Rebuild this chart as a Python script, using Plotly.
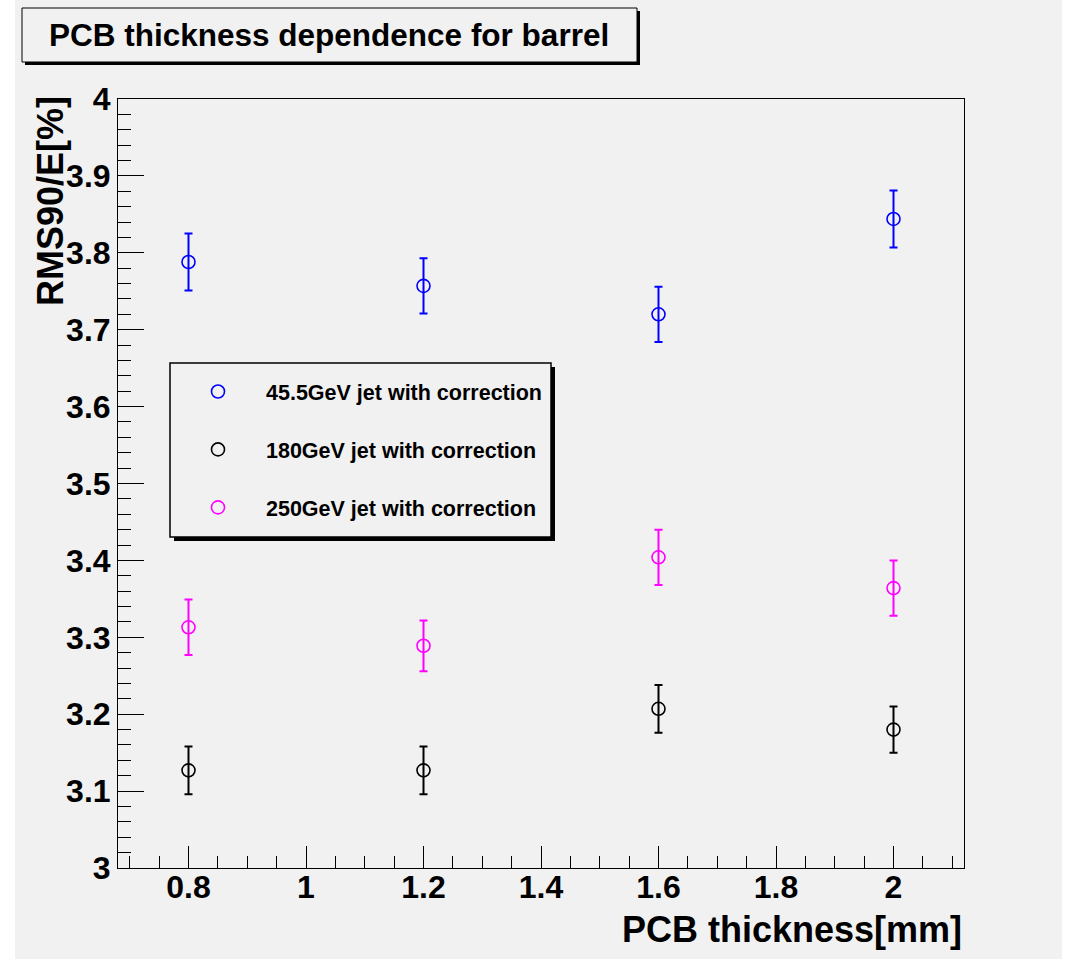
import plotly.graph_objects as go

# ---------------- data ----------------
thickness = [0.8, 1.2, 1.6, 2.0]
rms_45 = [3.788, 3.757, 3.720, 3.844]
err_45 = [0.037, 0.036, 0.036, 0.037]
rms_180 = [3.127, 3.127, 3.207, 3.180]
err_180 = [0.031, 0.031, 0.031, 0.030]
rms_250 = [3.313, 3.289, 3.404, 3.364]
err_250 = [0.036, 0.033, 0.036, 0.036]
names = ["45.5GeV jet with correction", "180GeV jet with correction", "250GeV jet with correction"]
colors = ["#0000ff", "#000000", "#ff00ff"]

# ---------------- layout geometry (pixels) ----------------
W, H = 1067, 959
L, R, T, B = 118, 964, 99, 868
BG = "#f1f1f1"
FONT = "Liberation Sans"

def px(xp):
    return (xp - L) / (R - L)

def py(yp):
    return (B - yp) / (B - T)

fig = go.Figure()
series = [(rms_45, err_45), (rms_180, err_180), (rms_250, err_250)]
for i, ((yv, ev), nm, c) in enumerate(zip(series, names, colors)):
    fig.add_trace(go.Scatter(
        x=thickness, y=yv, mode="markers", name=nm, legendgroup=f"g{i}",
        marker=dict(symbol="circle-open", size=13, color=c, line=dict(width=1.6, color=c)),
        error_y=dict(type="data", array=ev, visible=True, color=c, thickness=2, width=4),
    ))

shapes = [
    # white strips at canvas edges
    dict(type="rect", xref="paper", yref="paper", x0=px(0), x1=px(15), y0=py(H), y1=py(0),
         fillcolor="white", line=dict(width=0), layer="below"),
    dict(type="rect", xref="paper", yref="paper", x0=px(1062), x1=px(W), y0=py(H), y1=py(0),
         fillcolor="white", line=dict(width=0), layer="below"),
    # title box shadow and box
    dict(type="rect", xref="paper", yref="paper", x0=px(25), x1=px(640), y0=py(65), y1=py(11),
         fillcolor="black", line=dict(width=0), layer="above"),
    dict(type="rect", xref="paper", yref="paper", x0=px(22), x1=px(637), y0=py(62), y1=py(8),
         fillcolor=BG, line=dict(width=1, color="black"), layer="above"),
    # legend box shadow and box
    dict(type="rect", xref="paper", yref="paper", x0=px(174), x1=px(555), y0=py(541), y1=py(367),
         fillcolor="black", line=dict(width=0), layer="above"),
    dict(type="rect", xref="paper", yref="paper", x0=px(170), x1=px(551), y0=py(537), y1=py(363),
         fillcolor=BG, line=dict(width=1.5, color="black"), layer="above"),
]

annotations = [
    dict(text="PCB thickness dependence for barrel", xref="paper", yref="paper",
         x=px(329), y=py(35), xanchor="center", yanchor="middle", showarrow=False,
         font=dict(family=FONT, size=31.5, color="black", weight="bold")),
    dict(text="PCB thickness[mm]", xref="paper", yref="paper",
         x=1.0, y=py(929), xanchor="right", yanchor="middle", showarrow=False,
         font=dict(family=FONT, size=36, color="black", weight="bold")),
    dict(text="RMS90/E[%]", xref="paper", yref="paper", textangle=-90,
         x=px(50), y=py(94), xanchor="center", yanchor="top", showarrow=False,
         font=dict(family=FONT, size=36, color="black", weight="bold")),
]

axis_common = dict(
    showgrid=False, zeroline=False, showline=True, linecolor="black", linewidth=1,
    mirror=True, ticks="inside", tickcolor="black", tickwidth=1,
    tickfont=dict(family=FONT, size=32, color="black", weight="bold"),
)

fig.update_layout(
    width=W, height=H,
    margin=dict(l=L, r=W - R, t=T, b=H - B, pad=0),
    paper_bgcolor=BG, plot_bgcolor=BG,
    showlegend=True,
    legend=dict(x=px(170), y=py(371), xanchor="left", yanchor="top",
                bgcolor="rgba(0,0,0,0)", borderwidth=0, itemwidth=86,
                tracegroupgap=27, font=dict(family=FONT, size=21.5, color="black", weight="bold")),
    xaxis=dict(range=[0.68, 2.12], tick0=0, dtick=0.2, ticklen=22, ticklabelstandoff=-9,
               minor=dict(dtick=0.05, tick0=0, ticklen=12, ticks="inside", tickcolor="black"),
               **axis_common),
    yaxis=dict(range=[3, 4], tick0=3, dtick=0.1, ticklen=26,
               minor=dict(dtick=0.02, tick0=3, ticklen=13, ticks="inside", tickcolor="black"),
               **axis_common),
    shapes=shapes,
    annotations=annotations,
)

fig.write_html("out.html")
